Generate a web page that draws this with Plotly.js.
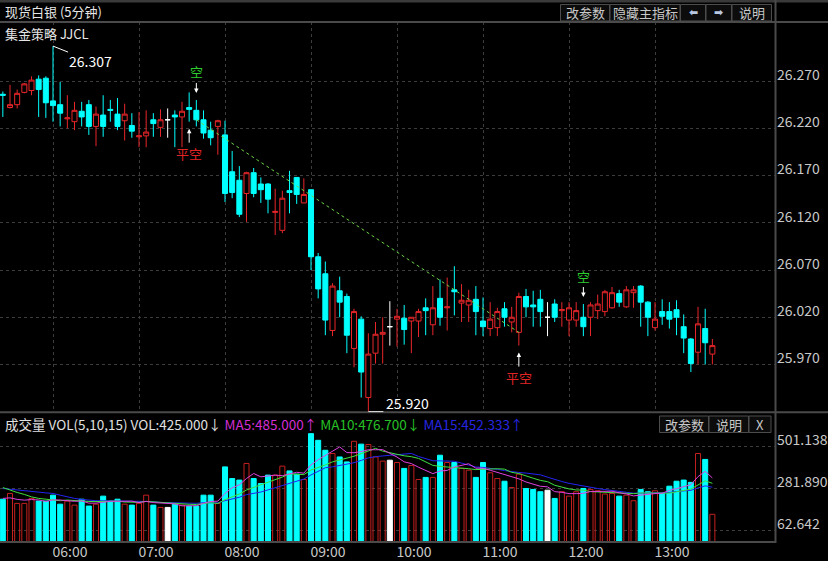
<!DOCTYPE html>
<html><head><meta charset="utf-8">
<script src="https://cdn.plot.ly/plotly-3.0.1.min.js"></script>
<style>html,body{margin:0;padding:0;background:#000;}#chart{width:828px;height:561px;}</style>
</head><body><div id="chart"></div>
<script>
const times = ['05:25','05:30','05:35','05:40','05:45','05:50','05:55',
'06:00','06:05','06:10','06:15','06:20','06:25','06:30','06:35','06:40','06:45','06:50','06:55',
'07:00','07:05','07:10','07:15','07:20','07:25','07:30','07:35','07:40','07:45','07:50','07:55',
'08:00','08:05','08:10','08:15','08:20','08:25','08:30','08:35','08:40','08:45','08:50','08:55',
'09:00','09:05','09:10','09:15','09:20','09:25','09:30','09:35','09:40','09:45','09:50','09:55',
'10:00','10:05','10:10','10:15','10:20','10:25','10:30','10:35','10:40','10:45','10:50','10:55',
'11:00','11:05','11:10','11:15','11:20','11:25','11:30','11:35','11:40','11:45','11:50','11:55',
'12:00','12:05','12:10','12:15','12:20','12:25','12:30','12:35','12:40','12:45','12:50','12:55',
'13:00','13:05','13:10','13:15','13:20','13:25','13:30','13:35','13:40'];

const open = [26.256,26.242,26.245,26.258,26.260,26.272,26.273,26.249,26.245,26.230,
26.227,26.238,26.245,26.222,26.234,26.240,26.235,26.228,26.223,26.211,
26.212,26.229,26.221,26.229,26.234,26.232,26.242,26.239,26.229,26.218,
26.222,26.213,26.174,26.165,26.151,26.173,26.161,26.161,26.131,26.112,
26.154,26.168,26.141,26.155,26.084,26.066,26.006,26.048,26.042,25.987,
26.018,25.935,25.982,26.002,26.010,26.018,26.019,26.016,26.016,26.030,
26.012,26.040,26.030,26.049,26.035,26.033,26.039,26.016,26.008,26.009,
26.029,26.015,26.004,26.042,26.033,26.039,26.020,26.034,26.027,26.017,
26.017,26.020,26.020,26.027,26.026,26.030,26.045,26.031,26.046,26.053,
26.036,26.009,26.026,26.026,26.028,26.010,25.997,25.983,26.008,25.981];

const close = [26.255,26.245,26.257,26.267,26.271,26.261,26.247,26.244,26.236,26.231,
26.239,26.232,26.222,26.235,26.222,26.239,26.222,26.235,26.217,26.212,
26.216,26.225,26.229,26.229,26.232,26.238,26.240,26.229,26.215,26.210,
26.228,26.151,26.152,26.129,26.173,26.151,26.155,26.145,26.132,26.146,
26.152,26.150,26.150,26.084,26.050,26.017,26.053,26.036,26.001,26.026,
25.962,25.981,26.002,26.004,26.010,26.021,26.007,26.020,26.026,26.027,
26.030,26.020,26.031,26.047,26.038,26.038,26.026,26.010,26.018,26.026,
26.020,26.020,26.042,26.031,26.031,26.026,26.020,26.020,26.028,26.030,
26.027,26.010,26.033,26.034,26.047,26.046,26.036,26.049,26.049,26.036,
26.020,26.018,26.021,26.018,26.020,25.998,25.971,26.013,25.993,25.990];

const high = [26.259,26.266,26.261,26.268,26.275,26.276,26.275,26.307,26.269,26.255,
26.248,26.248,26.250,26.243,26.255,26.250,26.252,26.246,26.236,26.237,
26.239,26.236,26.240,26.241,26.239,26.248,26.258,26.250,26.239,26.227,
26.229,26.228,26.196,26.180,26.174,26.178,26.168,26.162,26.156,26.154,
26.175,26.168,26.167,26.155,26.088,26.079,26.056,26.063,26.045,26.029,
26.021,26.003,26.015,26.020,26.037,26.029,26.033,26.020,26.029,26.040,
26.053,26.060,26.062,26.074,26.055,26.049,26.053,26.041,26.036,26.030,
26.036,26.031,26.046,26.050,26.048,26.049,26.036,26.039,26.036,26.036,
26.036,26.034,26.036,26.044,26.049,26.052,26.049,26.053,26.053,26.054,
26.037,26.036,26.039,26.036,26.038,26.023,25.998,26.031,26.029,25.997];

const low = [26.232,26.241,26.241,26.257,26.255,26.232,26.231,26.227,26.222,26.220,
26.218,26.222,26.213,26.201,26.211,26.227,26.218,26.207,26.210,26.200,
26.200,26.211,26.211,26.210,26.200,26.200,26.227,26.222,26.209,26.202,
26.192,26.142,26.146,26.126,26.121,26.147,26.141,26.130,26.107,26.109,
26.130,26.140,26.141,26.070,26.040,26.001,26.000,26.020,25.982,25.967,
25.935,25.920,25.971,25.971,25.990,25.989,25.991,25.982,25.999,26.001,
26.001,26.011,26.006,26.022,26.015,26.015,26.001,26.000,26.000,26.000,
26.010,26.004,25.990,26.020,26.010,26.010,26.000,26.015,26.010,26.000,
26.010,26.000,26.000,26.018,26.021,26.029,26.031,26.030,26.030,26.010,
26.000,26.006,26.012,26.008,26.001,25.982,25.962,25.970,25.970,25.970];

const volume = [224,254,202,202,228,214,214,245,198,214,
193,224,188,198,240,214,224,198,193,202,
245,193,181,181,198,193,188,188,245,245,
202,393,332,324,411,332,306,350,350,397,
372,355,327,567,532,480,463,445,419,527,
512,510,445,423,428,416,385,400,327,338,
338,454,416,416,385,376,338,416,362,332,
318,285,355,280,275,263,271,228,263,240,
263,280,275,268,251,254,240,245,216,275,
263,268,254,292,318,324,312,463,432,145];

// moving-average values for bars before a full window exists
const ma5Head = [228,231,223,219];
const ma10Head = [285,271,259,249,236,228,223,219,216];
const ma15Head = [280,277,271,268,264,261,257,254,245,236,228,223,219,216];

const priceTicks = [26.270,26.220,26.170,26.120,26.070,26.020,25.970];
const volTicks = [62.642,281.890,501.138];
const hourTicks = ['06:00','07:00','08:00','09:00','10:00','11:00','12:00','13:00'];

const shortSignals = ['07:40','12:10'];   // 空
const coverSignals = ['07:35','11:25'];   // 平空
const trendFrom = '07:40', trendTo = '11:25';

const W = 828, H = 561;
const px = x => x / W, py = y => 1 - y / H;
const RED = '#e8262a', CYAN = '#00ffff', VRED = '#c4201e';
const FONT = 'Noto Sans CJK SC, Noto Sans, sans-serif';

function pick(cond){
  const o={x:[],open:[],high:[],low:[],close:[]};
  times.forEach((t,i)=>{ if(cond(i)){o.x.push(t);o.open.push(open[i]);o.high.push(high[i]);o.low.push(low[i]);o.close.push(close[i]);} });
  return o;
}
function candle(d, lineColor, fill){
  return Object.assign({type:'candlestick', xaxis:'x', yaxis:'y', whiskerwidth:0, hoverinfo:'skip',
    increasing:{line:{color:lineColor,width:1},fillcolor:fill},
    decreasing:{line:{color:lineColor,width:1},fillcolor:fill}}, d);
}
const up = candle(pick(i=>close[i]>open[i]), RED, '#000000');
const dn = candle(pick(i=>close[i]<open[i]), CYAN, CYAN);
const flat = candle(pick(i=>close[i]===open[i]), '#ffffff', '#ffffff');

const vFill = times.map((t,i)=> close[i]>open[i] ? 'rgba(0,0,0,0)' : (close[i]<open[i] ? CYAN : '#ffffff'));
const vLine = times.map((t,i)=> close[i]>open[i] ? VRED : (close[i]<open[i] ? CYAN : '#ffffff'));
const volTrace = {type:'bar', x:times, y:volume, xaxis:'x2', yaxis:'y2', hoverinfo:'skip',
  marker:{color:vFill, line:{color:vLine, width:1}}};

function ma(n, head){
  return volume.map((v,i)=>{
    if(i < n-1) return head[i];
    let s=0; for(let k=i-n+1;k<=i;k++) s+=volume[k]; return s/n;
  });
}
const maT = (n, head, c) => ({type:'scatter', mode:'lines', x:times, y:ma(n,head), xaxis:'x2', yaxis:'y2',
  line:{color:c, width:1}, hoverinfo:'skip'});

const iMax = high.indexOf(Math.max(...high));
const iMin = low.indexOf(Math.min(...low));
const idx = t => times.indexOf(t);

const shapes = [
  {type:'rect', xref:'paper', yref:'paper', x0:0, x1:1, y0:py(2.5), y1:1, fillcolor:'#3a3a3a', line:{width:0}},
  {type:'line', xref:'paper', yref:'paper', x0:0, x1:1, y0:py(22), y1:py(22), line:{color:'#4a4a4a', width:2}},
  {type:'line', xref:'paper', yref:'paper', x0:0, x1:1, y0:py(412.3), y1:py(412.3), line:{color:'#4a4a4a', width:2}},
  {type:'line', xref:'paper', yref:'paper', x0:0, x1:px(776), y0:py(542), y1:py(542), line:{color:'#4a4a4a', width:2}},
  {type:'line', xref:'paper', yref:'paper', x0:px(775.5), x1:px(775.5), y0:py(543), y1:1, line:{color:'#4a4a4a', width:2}},
  // trend line
  {type:'line', xref:'x', yref:'y', x0:trendFrom, y0:close[idx(trendFrom)], x1:trendTo, y1:open[idx(trendTo)],
   line:{color:'#6fd34a', width:1, dash:'dot'}},
  // high / low markers
  {type:'line', xref:'x', yref:'y', xsizemode:'pixel', ysizemode:'pixel', xanchor:times[iMax], yanchor:high[iMax],
   x0:0, x1:15, y0:0, y1:-6, line:{color:'#ffffff', width:1}},
  {type:'line', xref:'x', yref:'y', xsizemode:'pixel', xanchor:times[iMin], x0:0, x1:15, y0:low[iMin], y1:low[iMin],
   line:{color:'#ffffff', width:1}}
];

const annotations = [];
function txt(x, y, text, opts){
  annotations.push(Object.assign({xref:'paper', yref:'paper', x:px(x), y:py(y), text:text, showarrow:false,
    xanchor:'left', yanchor:'middle', font:{family:FONT, size:13, color:'#d8d8d8'}}, opts||{}));
}
function button(x0, x1, y0, y1, label, fontOpts){
  shapes.push({type:'rect', xref:'paper', yref:'paper', x0:px(x0), x1:px(x1), y0:py(y1), y1:py(y0),
    fillcolor:'#0c0c0c', line:{color:'#4c4c4c', width:1}});
  txt((x0+x1)/2, (y0+y1)/2, label, Object.assign({xanchor:'center'}, fontOpts||{}));
}
txt(3, 12, '现货白银 (5分钟)', {font:{family:FONT, size:13, color:'#e6e6e6'}});
txt(3, 34, '集金策略 JJCL', {font:{family:FONT, size:13, color:'#e6e6e6'}});
button(560.5, 609.5, 4.5, 21, '改参数', {font:{family:FONT, size:13, color:'#c8c8c8'}});
button(610, 680, 4.5, 21, '隐藏主指标', {font:{family:FONT, size:13, color:'#c8c8c8'}});
button(680.5, 705.5, 4.5, 21, '<b>⬅</b>', {font:{family:'DejaVu Sans', size:11, color:'#b8c8e0'}});
button(706, 731.5, 4.5, 21, '<b>➡</b>', {font:{family:'DejaVu Sans', size:11, color:'#b8c8e0'}});
button(732, 771.5, 4.5, 21, '说明', {font:{family:FONT, size:13, color:'#c8c8c8'}});
button(659.5, 708.5, 416, 432.5, '改参数', {font:{family:FONT, size:13, color:'#c8c8c8'}});
button(709, 748.5, 416, 432.5, '说明', {font:{family:FONT, size:13, color:'#c8c8c8'}});
button(749, 771, 416, 432.5, 'X', {font:{family:FONT, size:13, color:'#c8c8c8'}});
txt(3, 424, '成交量 VOL(5,10,15) VOL:425.000↓ <span style="color:#d22ed2">MA5:485.000↑</span> <span style="color:#27c027">MA10:476.700↓</span> <span style="color:#2626e0">MA15:452.333↑</span>',
  {font:{family:FONT, size:13.5, color:'#e0e0e0'}});

// high / low labels
annotations.push({xref:'x', yref:'y', x:times[iMax], y:high[iMax], text:high[iMax].toFixed(3), showarrow:false,
  xanchor:'left', yanchor:'middle', xshift:14, yshift:-15, font:{family:FONT, size:14, color:'#ffffff'}});
annotations.push({xref:'x', yref:'y', x:times[iMin], y:low[iMin], text:low[iMin].toFixed(3), showarrow:false,
  xanchor:'left', yanchor:'middle', xshift:16, yshift:9, font:{family:FONT, size:14, color:'#ffffff'}});

shortSignals.forEach(t=>{
  const i = idx(t);
  annotations.push({xref:'x', yref:'y', x:t, y:high[i], text:'空', showarrow:true, arrowhead:2, arrowsize:0.9,
    arrowwidth:1, arrowcolor:'#ffffff', ax:0, ay:-28, standoff:7, font:{family:FONT, size:13, color:'#2ecc2e'}});
});
coverSignals.forEach(t=>{
  const i = idx(t);
  annotations.push({xref:'x', yref:'y', x:t, y:low[i], text:'平空', showarrow:true, arrowhead:2, arrowsize:0.9,
    arrowwidth:1, arrowcolor:'#ffffff', ax:0, ay:32, standoff:7, font:{family:FONT, size:13, color:'#e02424'}});
});

const gridC = '#3c3c3c';
const baseX = {type:'category', categoryorder:'array', categoryarray:times, range:[-0.395, 107.74],
  rangeslider:{visible:false}, tickvals:hourTicks, ticktext:hourTicks, ticks:'', showline:false, zeroline:false};
const layout = {
  width:W, height:H, margin:{l:0,r:0,t:0,b:0}, paper_bgcolor:'#000', plot_bgcolor:'#000',
  showlegend:false, boxgap:0.3, boxgroupgap:0, bargap:0.3,
  font:{family:FONT, color:'#c8c8c8'},
  xaxis:Object.assign({}, baseX, {domain:[0, 775/W], anchor:'y', showticklabels:false,
    showgrid:true, gridcolor:gridC, griddash:'dot', gridwidth:1}),
  xaxis2:Object.assign({}, baseX, {domain:[0, 775/W], anchor:'y2', matches:'x', showgrid:false,
    tickfont:{family:FONT, size:14, color:'#c8c8c8'}, ticklabelshift:17, ticklabelstandoff:0}),
  yaxis:{domain:[py(412.3), py(22)], range:[25.9194, 26.3325], side:'right', anchor:'x',
    tickvals:priceTicks, ticktext:priceTicks.map(v=>v.toFixed(3)), ticks:'', showline:false, zeroline:false,
    showgrid:true, gridcolor:gridC, griddash:'dot', tickfont:{family:FONT, size:14, color:'#c8c8c8'},
    ticklabelshift:-6, ticklabelstandoff:1},
  yaxis2:{domain:[py(542), py(412.3)], range:[0, 678.6], side:'right', anchor:'x2',
    tickvals:volTicks, ticktext:volTicks.map(v=>v.toFixed(3)), ticks:'', showline:false, zeroline:false,
    showgrid:true, gridcolor:gridC, griddash:'dot', tickfont:{family:FONT, size:14, color:'#c8c8c8'},
    ticklabelshift:-6, ticklabelstandoff:1},
  shapes:shapes, annotations:annotations
};
Plotly.newPlot('chart', [volTrace, maT(15, ma15Head, '#2424f0'), maT(10, ma10Head, '#3fe03f'), maT(5, ma5Head, '#e040e0'), up, dn, flat], layout, {displayModeBar:false, staticPlot:true});
</script></body></html>
